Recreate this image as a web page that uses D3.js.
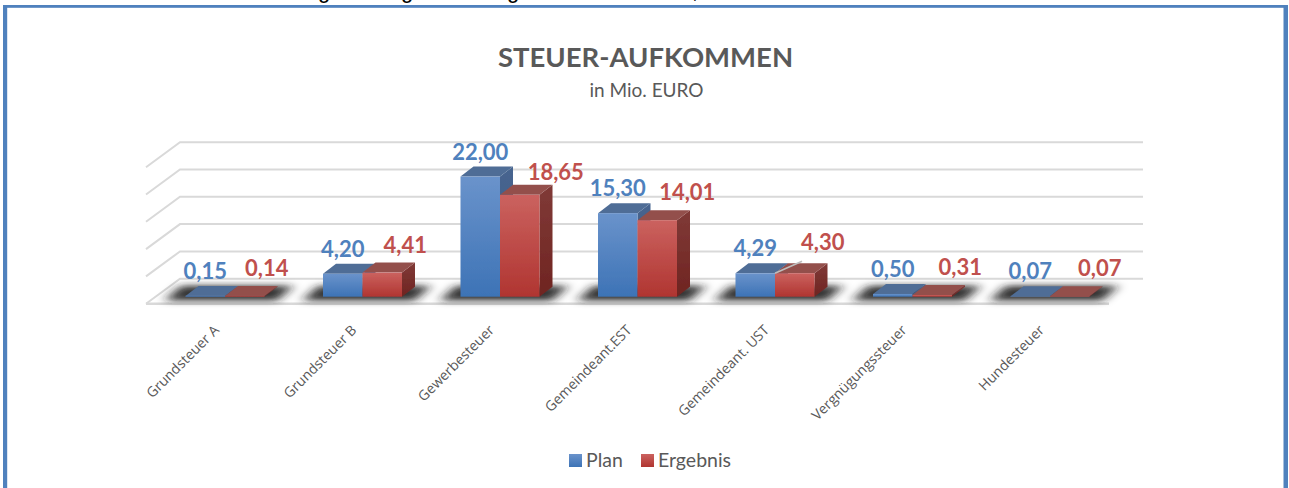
<!DOCTYPE html>
<html>
<head>
<meta charset="utf-8">
<script src="https://cdn.jsdelivr.net/npm/d3@7"></script>
<style>
	html, body { margin: 0; padding: 0; background: #fff; overflow: hidden; }
	svg { display: block; font-family: Lato, sans-serif; }
	.cat-label { font-family: "Open Sans", sans-serif; font-size: 14px; fill: #595959; }
	.value-label { font-size: 22px; font-weight: 700; }
</style>
</head>
<body>
<svg id="chart" width="1289" height="488"></svg>
<script>
var categories = ['Grundsteuer A', 'Grundsteuer B', 'Gewerbesteuer', 'Gemeindeant.EST', 'Gemeindeant. UST', 'Vergnügungssteuer', 'Hundesteuer'];
var planValues = [0.15, 4.20, 22.00, 15.30, 4.29, 0.50, 0.07];
var ergebnisValues = [0.14, 4.41, 18.65, 14.01, 4.30, 0.31, 0.07];
var seriesNames = ['Plan', 'Ergebnis'];
var gridTicks = [0, 5, 10, 15, 20, 25];

// the red labels were dragged by hand in the original, so they sit off their bars
var ergebnisLabelDx = [22, 23, 36, 30, 28, 28, 30];
var ergebnisLabelDy = [-20, -20, -15, -20, -23, -20, -20];

// bottoms of a line of page text, cut off above the chart frame
var cutOffGlyphs = [{x: 324, t: 'g'}, {x: 407, t: 'g'}, {x: 513, t: 'g'}, {x: 695, t: ','}];

var colors = {
	Plan: {text: '#4f81bd', top: '#6a93cb', bottom: '#3d73b6', lid: '#4f6d96', sideTop: '#47658f', sideBottom: '#3a5a85'},
	Ergebnis: {text: '#c0504d', top: '#cb625f', bottom: '#b03531', lid: '#934f4c', sideTop: '#803a37', sideBottom: '#6f2421'}
};

var svg = d3.select('#chart');
var defs = svg.append('defs');

var depthX = 13, depthY = 10;   // bar extrusion
var floorX = 34, floorY = 25;   // floor and wall offset

var x0 = d3.scaleBand().domain(categories).range([156.25, 1118.75]);
var x1 = d3.scaleBand().domain(seriesNames).range([x0.bandwidth() / 2 - 39.5, x0.bandwidth() / 2 + 39.5]);
var y = d3.scaleLinear().domain([0, 25]).range([296.7, 160.2]);

var baseY = y(0);
var wallY = function(v){ return y(v) - 18; };
var floorFrontY = wallY(0) + floorY;
var floorLeft = 146, floorRight = 1109;

seriesNames.forEach(function(name){
	var c = colors[name];
	var front = defs.append('linearGradient').attr('id', 'front-' + name).attr('x1', 0).attr('x2', 0).attr('y1', 0).attr('y2', 1);
	front.append('stop').attr('offset', 0).attr('stop-color', c.top);
	front.append('stop').attr('offset', 1).attr('stop-color', c.bottom);
	var side = defs.append('linearGradient').attr('id', 'side-' + name).attr('x1', 0).attr('x2', 0).attr('y1', 0).attr('y2', 1);
	side.append('stop').attr('offset', 0).attr('stop-color', c.sideTop);
	side.append('stop').attr('offset', 1).attr('stop-color', c.sideBottom);
});

defs.append('filter').attr('id', 'shadow-blur')
	.attr('x', '-20%').attr('y', '-80%').attr('width', '140%').attr('height', '260%')
	.append('feGaussianBlur').attr('stdDeviation', '6 3');

defs.append('filter').attr('id', 'soft')
	.attr('x', '-5%').attr('y', '-5%').attr('width', '110%').attr('height', '110%')
	.append('feGaussianBlur').attr('stdDeviation', 0.45);

function poly(pts){
	var p = d3.path();
	pts.forEach(function(pt, i){
		if(i === 0) p.moveTo(pt[0], pt[1]);
		else p.lineTo(pt[0], pt[1]);
	});
	p.closePath();
	return p.toString();
}

// frame
var frame = svg.append('g').attr('fill', '#4f81bd');
frame.append('rect').attr('x', 3).attr('y', 5).attr('width', 1285).attr('height', 2.8);
frame.append('rect').attr('x', 3).attr('y', 5).attr('width', 4.2).attr('height', 483);
frame.append('rect').attr('x', 1283.5).attr('y', 5).attr('width', 4.5).attr('height', 483);

svg.append('g')
	.selectAll('text')
	.data(cutOffGlyphs)
	.enter()
	.append('text')
	.attr('x', function(d){ return d.x; })
	.attr('y', -2)
	.attr('text-anchor', 'middle')
	.style('font-family', 'Liberation Sans, sans-serif')
	.style('font-size', '22px')
	.attr('fill', '#000')
	.text(function(d){ return d.t; });

// titles
svg.append('text')
	.attr('x', 645.5).attr('y', 67)
	.attr('text-anchor', 'middle')
	.attr('fill', '#595959')
	.style('font-size', '27.5px')
	.style('font-weight', 700)
	.text('STEUER-AUFKOMMEN');

svg.append('text')
	.attr('x', 646.5).attr('y', 97)
	.attr('text-anchor', 'middle')
	.attr('fill', '#595959')
	.style('font-size', '19px')
	.text('in Mio. EURO');

// back wall and floor
var grid = svg.append('g').attr('filter', 'url(#soft)');

grid.selectAll('.wall-line')
	.data(gridTicks)
	.enter()
	.append('path')
	.attr('class', 'wall-line')
	.attr('fill', 'none')
	.attr('stroke', '#d9d9d9')
	.attr('stroke-width', 2)
	.attr('d', function(d){
		var yy = wallY(d);
		return d3.line()([[floorLeft, yy + floorY], [floorLeft + floorX, yy], [floorRight + floorX, yy]]);
	});

grid.append('line')
	.attr('x1', floorLeft).attr('x2', floorRight)
	.attr('y1', floorFrontY).attr('y2', floorFrontY)
	.attr('stroke', '#d9d9d9')
	.attr('stroke-width', 2.5);

// bar shadows on the floor
svg.append('g')
	.selectAll('path')
	.data(categories)
	.enter()
	.append('path')
	.attr('filter', 'url(#shadow-blur)')
	.attr('fill', '#1c1c1c')
	.attr('fill-opacity', 0.9)
	.attr('d', function(d){
		var c = x0(d) + x0.bandwidth() / 2;
		var yb = baseY + 4, yt = baseY - 11;
		return poly([[c - 60, yb], [c + 52, yb], [c + 68, yt], [c - 44, yt]]);
	});

// bars, blue first so the red one overlaps it
var bars = svg.append('g').attr('filter', 'url(#soft)');

categories.forEach(function(cat, i){
	seriesNames.forEach(function(name, s){
		var v = (s === 0 ? planValues : ergebnisValues)[i];
		var xl = x0(cat) + x1(name);
		var xr = xl + x1.bandwidth();
		var yt = y(v);
		var g = bars.append('g').attr('class', 'bar');

		g.append('path')
			.attr('fill', 'url(#side-' + name + ')')
			.attr('d', poly([[xr, yt], [xr + depthX, yt - depthY], [xr + depthX, baseY - depthY], [xr, baseY]]));

		g.append('path')
			.attr('fill', colors[name].lid)
			.attr('d', poly([[xl, yt], [xl + depthX, yt - depthY], [xr + depthX, yt - depthY], [xr, yt]]));

		g.append('rect')
			.attr('x', xl)
			.attr('y', yt)
			.attr('width', x1.bandwidth())
			.attr('height', Math.max(baseY - yt, 0.5))
			.attr('fill', 'url(#front-' + name + ')');
	});
});

// leader line of the 4,30 label
var leaderCat = categories[4];
svg.append('line')
	.attr('x1', x0(leaderCat) + x1('Ergebnis')).attr('y1', y(ergebnisValues[4]))
	.attr('x2', x0(leaderCat) + x1('Ergebnis') + 27).attr('y2', y(ergebnisValues[4]) - 12)
	.attr('stroke', '#bdbdbd')
	.attr('stroke-width', 1.5);

// data labels
var fmt = function(v){ return v.toFixed(2).replace('.', ','); };

svg.append('g')
	.selectAll('text')
	.data(planValues)
	.enter()
	.append('text')
	.attr('class', 'value-label')
	.attr('x', function(d, i){ return x0(categories[i]) + x1('Plan') + x1.bandwidth() / 2; })
	.attr('y', function(d){ return y(d) - 17; })
	.attr('text-anchor', 'middle')
	.attr('fill', colors.Plan.text)
	.text(fmt);

svg.append('g')
	.selectAll('text')
	.data(ergebnisValues)
	.enter()
	.append('text')
	.attr('class', 'value-label')
	.attr('x', function(d, i){ return x0(categories[i]) + x1('Ergebnis') + x1.bandwidth() / 2 + ergebnisLabelDx[i]; })
	.attr('y', function(d, i){ return y(d) + ergebnisLabelDy[i]; })
	.attr('text-anchor', 'middle')
	.attr('fill', colors.Ergebnis.text)
	.text(fmt);

// category labels
svg.append('g')
	.selectAll('text')
	.data(categories)
	.enter()
	.append('text')
	.attr('class', 'cat-label')
	.attr('text-anchor', 'end')
	.attr('transform', function(d){
		return 'translate(' + (x0(d) + x0.bandwidth() / 2 - 5) + ',331) rotate(-45)';
	})
	.text(function(d){ return d; });

// legend
var legendItems = svg.append('g')
	.selectAll('g')
	.data(seriesNames)
	.enter()
	.append('g')
	.attr('transform', function(d, i){ return 'translate(' + (i === 0 ? 569 : 641) + ',454)'; });

legendItems.append('rect')
	.attr('width', 13)
	.attr('height', 13)
	.attr('fill', function(d){ return 'url(#front-' + d + ')'; });

legendItems.append('text')
	.attr('x', 17)
	.attr('y', 13)
	.attr('fill', '#595959')
	.style('font-size', '19.5px')
	.text(function(d){ return d; });
</script>
</body>
</html>
